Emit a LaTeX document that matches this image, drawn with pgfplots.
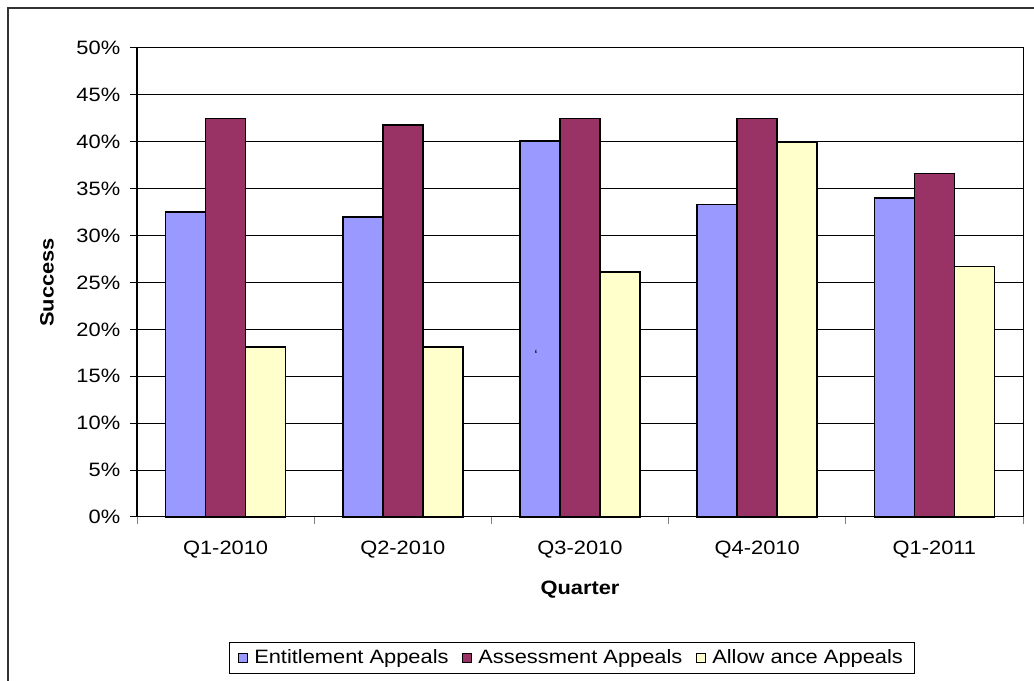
\documentclass[border=0pt]{standalone}
\usepackage{pgfplots}
\pgfplotsset{compat=1.18}
\usepackage{fontspec}
\setmainfont{Liberation Sans}[FakeStretch=1.13]
\definecolor{cblue}{HTML}{9999FF}
\definecolor{cmaroon}{HTML}{993366}
\definecolor{cyellow}{HTML}{FFFFCC}
\newcommand{\tfont}{\fontsize{11.6pt}{14pt}\selectfont}
\begin{document}
\tfont
\begin{tikzpicture}
\path[use as bounding box] (0,0) rectangle (620.4pt,408.6pt);
\draw[line width=0.9pt, black!80] (4.8pt,-1pt) -- (4.8pt,403.8pt) -- (622pt,403.8pt);
\begin{axis}[
  at={(82.2pt,98.4pt)}, anchor=south west,
  scale only axis, width=531.6pt, height=281.4pt,
  ybar=0pt, bar width=24pt,
  xmin=-0.5, xmax=4.5, ymin=0, ymax=50,
  xtick={0,1,2,3,4},
  xticklabels={Q1-2010,Q2-2010,Q3-2010,Q4-2010,Q1-2011},
  minor xtick={-0.5,0.5,1.5,2.5,3.5,4.5},
  ytick={0,5,...,50},
  yticklabel={\pgfmathprintnumber{\tick}\%},
  /pgf/number format/assume math mode=true,
  tick pos=left,
  tick align=outside,
  major tick length=4pt, minor tick length=4pt,
  x tick style={draw=none},
  minor x tick style={draw=gray, line width=0.6pt},
  y tick style={draw=black, line width=0.6pt},
  ymajorgrids, grid style={black, line width=0.6pt},
  axis line style={black, line width=0.6pt},
  xticklabel style={font=\tfont, yshift=-6.5pt},
  yticklabel style={font=\tfont, xshift=-2pt},
  xlabel={\bfseries Quarter}, ylabel={\bfseries Success},
  xlabel style={at={(axis description cs:0.5,-0.1557)}, anchor=center},
  ylabel style={at={(axis description cs:-0.1016,0.5)}, anchor=center},
  legend style={at={(axis description cs:0.491,-0.3006)}, anchor=center,
    legend columns=-1, draw=black, line width=0.6pt,
    font=\tfont, inner xsep=5pt, inner ysep=2.5pt,
    /tikz/every odd column/.append style={column sep=2pt},
    /tikz/every even column/.append style={column sep=6pt}},
  legend image code/.code={\draw[#1, line width=0.5pt] (0pt,-2.7pt) rectangle (5.4pt,2.7pt);},
  every axis plot/.append style={draw=black, line width=0.9pt},
  clip=false,
]
\addplot[fill=cblue] coordinates {(0,32.5) (1,32.0) (2,40.1) (3,33.3) (4,34.0)};
\addplot[fill=cmaroon] coordinates {(0,42.5) (1,41.8) (2,42.5) (3,42.5) (4,36.6)};
\addplot[fill=cyellow] coordinates {(0,18.1) (1,18.1) (2,26.1) (3,40.0) (4,26.7)};
\legend{Entitlement Appeals,Assessment Appeals,Allow ance Appeals}
\draw[line width=1.2pt] (rel axis cs:0,0) -- (rel axis cs:0,1);
\node[font=\fontsize{8pt}{9pt}\selectfont] at (axis cs:1.752,17.3) {`};
\end{axis}
\end{tikzpicture}
\end{document}
